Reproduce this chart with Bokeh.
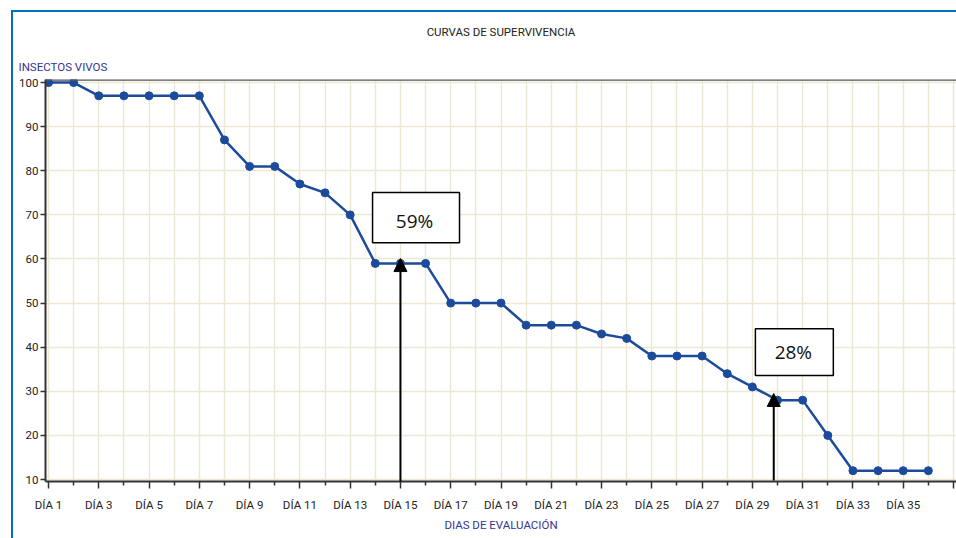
from bokeh.plotting import figure
from bokeh.models import (FixedTicker, Label, BoxAnnotation, Arrow, NormalHead,
                          Span, Range1d, ColumnDataSource, Title)
from bokeh.embed import file_html
from bokeh.resources import INLINE

# ---- data ----
days = list(range(1, 37))
alive = [100, 100, 97, 97, 97, 97, 97, 87, 81, 81, 77, 75, 70, 59, 59, 59,
         50, 50, 50, 45, 45, 45, 43, 42, 38, 38, 38, 34, 31, 28, 28, 20,
         12, 12, 12, 12]
major_days = list(range(1, 38, 2))
minor_days = list(range(2, 38, 2))
y_ticks = list(range(10, 101, 10))
tick_labels = {d: ("DÍA %d" % d if d <= 35 else "") for d in major_days}
title_text = "CURVAS DE SUPERVIVENCIA"
y_title = "INSECTOS VIVOS"
x_title = "DIAS DE EVALUACIÓN"
callouts = ["59%", "28%"]

FONT = "Roboto"
FS = "11.5px"
BLUE = "#1c4b9c"
GRID = "#ece8d4"
LBL = "#353595"

W, H = 956, 538

p = figure(width=W, height=H, output_backend="svg", toolbar_location=None,
           x_range=Range1d(0.88, 37.12), y_range=Range1d(9.55, 100.7),
           min_border_left=45, min_border_right=0, min_border_top=79,
           min_border_bottom=H - 481)
p.outline_line_color = None
p.background_fill_color = "white"
p.border_fill_color = None
p.styles = {
    "background": "linear-gradient(#0070c0,#0070c0) 11px 10px / 945px 2px no-repeat, "
                  "linear-gradient(#0070c0,#0070c0) 11px 10px / 2px 528px no-repeat, white"
}

# titles
p.title.text = title_text
p.title.align = "center"
p.title.text_font = FONT
p.title.text_font_size = FS
p.title.text_font_style = "normal"
p.title.text_color = "#222222"
p.title.standoff = 25
p.add_layout(Title(text=y_title, align="left", offset=-27, text_font=FONT,
                   text_font_size=FS, text_font_style="normal",
                   text_color=LBL, standoff=12), "above")

# axes
for ax in (p.xaxis[0], p.yaxis[0]):
    ax.axis_line_color = "#333333"
    ax.axis_line_width = 2
    ax.major_tick_line_color = "#333333"
    ax.major_tick_line_width = 1.5
    ax.major_label_text_font = FONT
    ax.major_label_text_font_size = FS
    ax.major_label_text_color = "#222222"

p.xaxis.ticker = FixedTicker(ticks=major_days, minor_ticks=minor_days)
p.xaxis.major_label_overrides = tick_labels
p.xaxis.major_tick_in = 0
p.xaxis.major_tick_out = 7
p.xaxis.minor_tick_in = 0
p.xaxis.minor_tick_out = 4
p.xaxis.minor_tick_line_color = "#333333"
p.xaxis.minor_tick_line_width = 1.5
p.xaxis.major_label_standoff = 9
p.xaxis.axis_label = x_title
p.xaxis.axis_label_text_font = FONT
p.xaxis.axis_label_text_font_size = FS
p.xaxis.axis_label_text_font_style = "normal"
p.xaxis.axis_label_text_color = LBL
p.xaxis.axis_label_standoff = 3

p.yaxis.ticker = FixedTicker(ticks=y_ticks)
p.yaxis.major_tick_in = 0
p.yaxis.major_tick_out = 5
p.yaxis.minor_tick_line_color = None
p.yaxis.major_label_standoff = 2

p.xgrid.grid_line_color = GRID
p.xgrid.grid_line_width = 1.5
p.xgrid.minor_grid_line_color = GRID
p.xgrid.minor_grid_line_width = 1.5
p.ygrid.grid_line_color = GRID
p.ygrid.grid_line_width = 1.5

# top frame line
p.add_layout(Span(location=100.7, dimension="width", line_color="#555555",
                  line_width=2.5))

# data
src = ColumnDataSource(dict(x=days, y=alive))
p.line("x", "y", source=src, line_color=BLUE, line_width=2.5)
p.scatter("x", "y", source=src, size=8, color=BLUE)

# callout boxes, arrows, texts
boxes = [(13.89, 17.35, 63.7, 75.1), (29.12, 32.22, 33.6, 44.2)]
arrows = [(15.0, 7.7, 60.1), (29.85, 9.8, 29.5)]
texts = [(15.56, 68.6), (30.63, 38.9)]
for (l, r, b, t), (ax_, ys, ye), (tx, ty), s in zip(boxes, arrows, texts, callouts):
    p.add_layout(BoxAnnotation(left=l, right=r, bottom=b, top=t,
                               fill_color="white", fill_alpha=1,
                               line_color="black", line_width=1.5,
                               line_alpha=1))
    p.add_layout(Arrow(x_start=ax_, y_start=ys, x_end=ax_, y_end=ye,
                       line_color="black", line_width=2,
                       end=NormalHead(size=13, fill_color="black",
                                      line_color="black")))
    p.add_layout(Label(x=tx, y=ty, text=s, text_font="Open Sans",
                       text_font_size="19px", text_color="#111111",
                       text_align="center", text_baseline="middle"))

open("out.html", "w").write(file_html(p, INLINE))
